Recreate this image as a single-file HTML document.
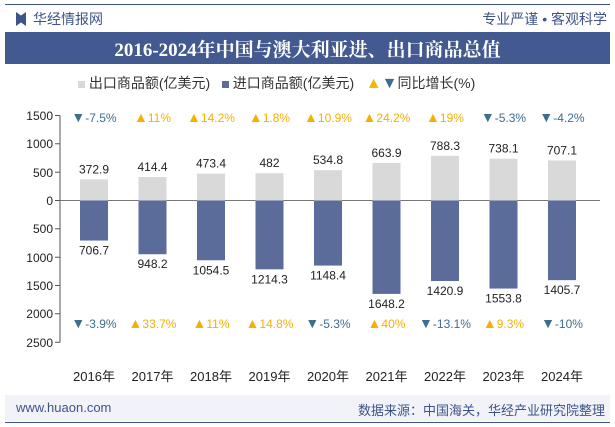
<!DOCTYPE html><html><head><meta charset="utf-8"><style>
body{margin:0;width:615px;height:427px;background:#fff;font-family:"Liberation Sans","Noto Sans CJK SC",sans-serif;overflow:hidden;position:relative}
.a{position:absolute;white-space:nowrap}
</style></head><body>
<div class="a" style="left:5px;top:4px;width:605px;height:1px;background:#3e5389"></div>
<div class="a" style="left:16px;top:12px;width:10px;height:14px;background:#3e5389;clip-path:polygon(0 0,50% 25%,100% 0,100% 100%,50% 75%,0 100%)"></div>
<div class="a" style="left:33px;top:9px;font-size:14px;color:#3e5389">华经情报网</div>
<div class="a" style="right:8px;top:9px;font-size:14px;color:#3e5389">专业严谨 • 客观科学</div>
<div class="a" style="left:5px;top:32px;width:605px;height:32px;background:#425a8f"></div>
<div class="a" style="left:0;top:35px;width:615px;text-align:center;font-size:19px;font-weight:bold;color:#fff;font-family:'Liberation Serif','Noto Serif CJK SC',serif">2016-2024年中国与澳大利亚进、出口商品总值</div>
<div class="a" style="left:78px;top:73px;font-size:14px;color:#333"><span style="display:inline-block;width:7px;height:7px;background:#d9d9d9"></span> 出口商品额(亿美元) &nbsp; <span style="display:inline-block;width:7px;height:7px;background:#5b6b9a"></span> 进口商品额(亿美元) &nbsp; <span style="color:#f5b800;font-size:16px">▲</span><span style="color:#3f6d8d;font-size:16px">▼</span>同比增长(%)</div>
<svg class="a" style="left:0;top:0" width="615" height="427" font-family="Liberation Sans,sans-serif" font-size="12">
<g fill="#222" text-anchor="end">
<text x="53" y="120">1500</text><text x="53" y="148">1000</text><text x="53" y="177">500</text><text x="53" y="205">0</text><text x="53" y="233">500</text><text x="53" y="262">1000</text><text x="53" y="290">1500</text><text x="53" y="318">2000</text><text x="53" y="347">2500</text></g>
<path d="M55 115.5H60M55 143.8H60M55 172.2H60M55 200.5H60M55 228.8H60M55 257.2H60M55 285.5H60M55 313.8H60M55 342.2H60M60 115.5V342.2" stroke="#555" fill="none"/>
<line x1="60" y1="200.5" x2="600" y2="200.5" stroke="#777"/>
<g id="bars"></g>
</svg>
<div class="a" style="left:5px;top:395px;width:605px;height:26px;background:#f1f3f9"></div>
<div class="a" style="left:16px;top:400px;font-size:13px;color:#3e5389">www.huaon.com</div>
<div class="a" style="right:10px;top:400px;font-size:13px;color:#3e5389">数据来源：中国海关，华经产业研究院整理</div>
<div class="a" style="left:5px;top:422px;width:605px;height:1px;background:#3e5389"></div>
<script>
var ex=[372.9,414.4,473.4,482,534.8,663.9,788.3,738.1,707.1],im=[706.7,948.2,1054.5,1214.3,1148.4,1648.2,1420.9,1553.8,1405.7];
var g1=["-7.5","11","14.2","1.8","10.9","24.2","19","-5.3","-4.2"],g2=["-3.9","33.7","11","14.8","-5.3","40","-13.1","9.3","-10"];
var k=85/1500,z=200.5,s="";
for(var i=0;i<9;i++){var c=94+i*58.5,he=ex[i]*k,hi=im[i]*k;
s+='<rect x="'+(c-14)+'" y="'+(z-he)+'" width="28" height="'+he+'" fill="#d9d9d9"/>';
s+='<rect x="'+(c-14)+'" y="'+z+'" width="28" height="'+hi+'" fill="#5b6b9a"/>';
s+='<text x="'+c+'" y="'+(z-he-6)+'" text-anchor="middle" fill="#222">'+ex[i]+'</text>';
s+='<text x="'+c+'" y="'+(z+hi+14)+'" text-anchor="middle" fill="#222">'+im[i]+'</text>';
function gt(v,y){var n=v[0]=="-";return '<text x="'+c+'" y="'+y+'" text-anchor="middle" fill="'+(n?"#3f6d8d":"#f5b000")+'"><tspan font-size="14">'+(n?"▼":"▲")+'</tspan>'+v+'%</text>';}
s+=gt(g1[i],122)+gt(g2[i],328);
s+='<text x="'+c+'" y="381" text-anchor="middle" fill="#222" font-size="13" font-family="Liberation Sans,Noto Sans CJK SC,sans-serif">'+(2016+i)+'年</text>';}
document.getElementById("bars").innerHTML=s;
</script>
</body></html>
